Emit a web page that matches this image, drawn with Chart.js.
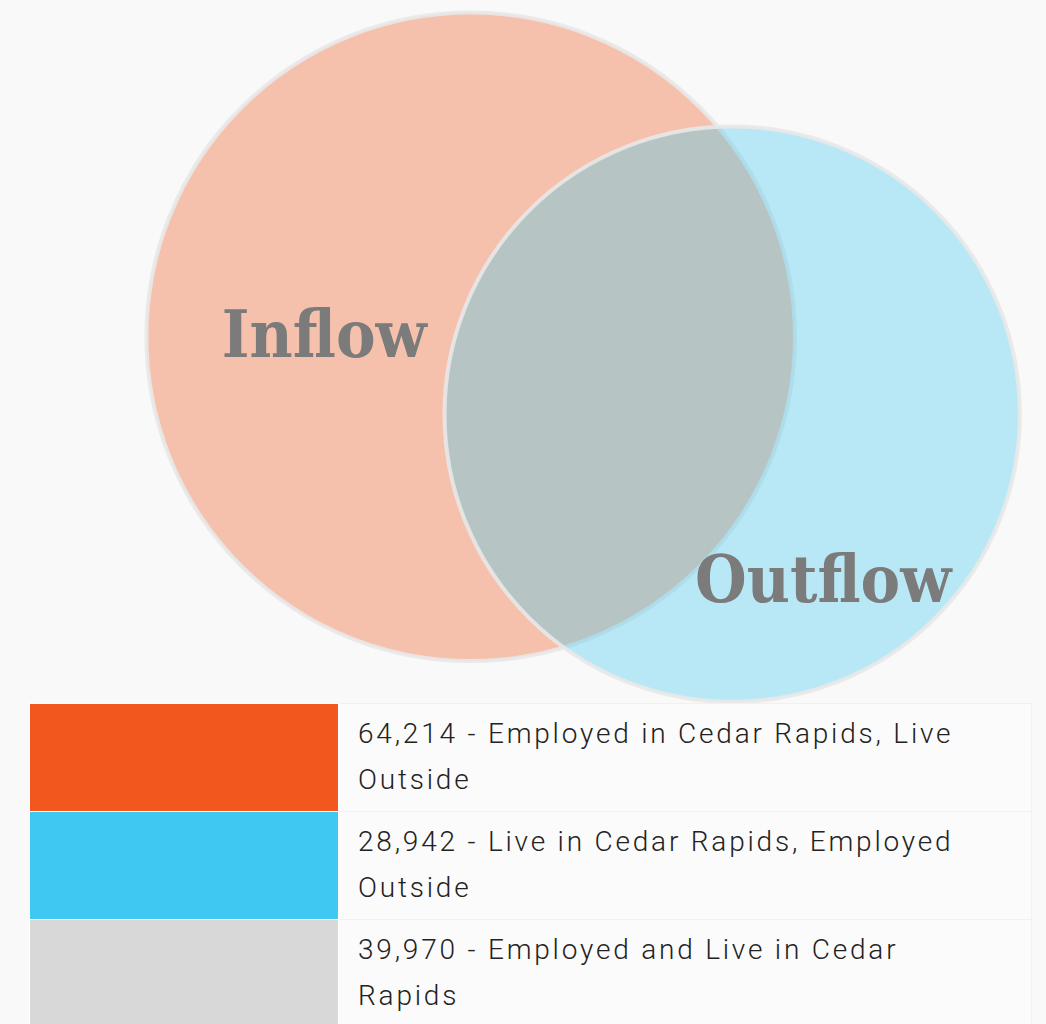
<!DOCTYPE html>
<html>
<head>
<meta charset="utf-8">
<script src="https://cdn.jsdelivr.net/npm/chart.js@4.4.1/dist/chart.umd.min.js"></script>
<style>
  body { margin: 0; background: #f9f9f9; }
  #wrap { width: 1046px; height: 703px; position: relative; }
  table { border-collapse: collapse; margin-left: 29px; width: 1003px; }
  td { border: 1px solid #f1f1f1; padding: 0; }
  td.sw { width: 308px; border-color: #ffffff; }
  td.txt {
    background: #fbfbfb; padding: 7px 56px 8px 19px; vertical-align: middle;
    font-family: Roboto, sans-serif; font-weight: 300; font-size: 28px;
    line-height: 46px; letter-spacing: 2.8px; color: #222;
  }
</style>
</head>
<body>
<div id="wrap"><canvas id="venn" width="1046" height="703"></canvas></div>
<table id="key"></table>
<script>
// sets (venn layout units, 100 = full width)
const setLabels = ['Inflow', 'Outflow'];
const setX = [45.0, 70.0];
const setY = [32.2, 39.6];
const setR = [31.0, 27.5];
const labelX = [31.0, 78.7];
const labelY = [34.1, 57.6];
const setColors = ['rgba(242, 88, 30, 0.35)', 'rgba(62, 200, 242, 0.35)'];

// legend table
const values = [64214, 28942, 39970];
const descriptions = [
    'Employed in Cedar Rapids, Live Outside',
    'Live in Cedar Rapids, Employed Outside',
    'Employed and Live in Cedar Rapids'
];
const keyColors = ['#f2581e', '#3ec8f2', '#d8d8d8'];

const key = document.getElementById('key');
values.forEach((v, i) => {
    const tr = document.createElement('tr');
    tr.innerHTML = '<td class="sw" style="background:' + keyColors[i] + '"></td>' +
        '<td class="txt">' + v.toLocaleString('en-US') + ' - ' + descriptions[i] + '</td>';
    key.appendChild(tr);
});

const setNames = {
    id: 'setNames',
    afterDatasetsDraw(chart) {
        const c = chart.ctx;
        const x = chart.scales.x, y = chart.scales.y;
        c.save();
        c.font = 'bold 66px "DejaVu Serif Condensed", "DejaVu Serif", serif';
        c.fillStyle = '#7b7b7b';
        c.textAlign = 'center';
        c.textBaseline = 'alphabetic';
        setLabels.forEach((t, i) => {
            c.fillText(t, x.getPixelForValue(labelX[i]), y.getPixelForValue(labelY[i]));
        });
        c.restore();
    }
};

new Chart(document.getElementById('venn'), {
    type: 'scatter',
    data: {
        datasets: [{
            label: 'Commuting',
            data: setX.map((x, i) => ({ x: x, y: setY[i] })),
            showLine: false,
            pointBackgroundColor: setColors,
            pointBorderColor: 'rgba(232, 232, 232, 0.9)',
            pointBorderWidth: 4,
            pointRadius: (ctx) => {
                const s = ctx.chart.scales.x;
                return s.getPixelForValue(setR[ctx.dataIndex]) - s.getPixelForValue(0);
            }
        }]
    },
    options: {
        responsive: false,
        animation: false,
        events: [],
        layout: { padding: 0 },
        plugins: { legend: { display: false }, tooltip: { enabled: false } },
        scales: {
            x: { type: 'linear', min: 0, max: 100, display: false },
            y: { type: 'linear', min: 0, max: 703 / 10.46, reverse: true, display: false }
        }
    },
    plugins: [setNames]
});
</script>
</body>
</html>
